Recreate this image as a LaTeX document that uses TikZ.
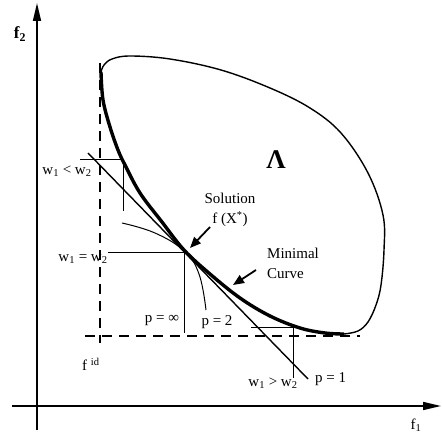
\documentclass[tikz,border=0pt]{standalone}
\usepackage{fontspec}
\setmainfont{Liberation Serif}
\usetikzlibrary{arrows.meta}

\begin{document}
\begin{tikzpicture}[x=1pt, y=-1pt,
  axis/.style={line width=1.6pt, -{Triangle[length=18pt, width=8pt]}},
  bound/.style={line width=1.4pt},
  minimal/.style={line width=3.4pt},
  guide/.style={line width=1pt},
  tangent/.style={line width=1.4pt},
  idline/.style={line width=1.4pt, dash pattern=on 10pt off 7pt},
  lbl/.style={font=\fontsize{15}{20}\selectfont, inner sep=1pt},
  ptr/.style={line width=1.8pt, -{Triangle[length=11pt, width=9pt]}}
]
\useasboundingbox (0,0) rectangle (442,435);

% axes
\coordinate (ybot) at (37,430);
\coordinate (ytop) at (37,3);
\coordinate (xleft) at (12,406);
\coordinate (xright) at (441,406);
\draw[axis] (ybot) -- (ytop);
\draw[axis] (xleft) -- (xright);
\node[lbl, font=\fontsize{17}{20}\selectfont\bfseries] (f2) at (20,34) {f\textsubscript{2}};
\node[lbl] (f1) at (416,425) {f\textsubscript{1}};

% ideal point
\coordinate (idtop) at (100,63);
\coordinate (idbot) at (100,343);
\coordinate (idleft) at (85,336);
\coordinate (idright) at (360,336);
\draw[idline] (idtop) -- (idbot);
\draw[idline] (idleft) -- (idright);
\node[lbl, anchor=base west] (fid) at (81,371) {f \textsuperscript{id}};

% region Lambda
\draw[bound] plot[smooth, tension=0.6] coordinates {(344,334) (358,331) (368,322)
  (376,305) (381,285) (384,250) (383,215) (368,173) (341,133) (310,108)
  (270,88) (221,70) (170,59) (130,56) (112,59) (104,65) (101,72)};
\draw[minimal] plot[smooth, tension=0.6] coordinates {(101,72) (103,100) (110,127)
  (118,150) (125,165) (140,193) (162,222) (184,250) (210,274) (240,298)
  (270,316) (300,328) (325,333) (344,334)};
\node[lbl, font=\fontsize{27}{30}\selectfont\bfseries] (lambda) at (276,160) {Λ};

% p = 1 (weighted sum)
\coordinate (p1a) at (88,153);
\coordinate (p1b) at (308,379);
\draw[tangent] (p1a) -- (p1b);
\node[lbl, anchor=west] (p1) at (314,379) {p = 1};

% p = 2
\draw[guide] plot[smooth, tension=0.7] coordinates {(122,223) (155,233) (184,251)
  (199,274) (206,310)};
\node[lbl] (p2) at (217,322) {p = 2};

% p = infinity, w1 = w2
\coordinate (sol) at (184,253);
\coordinate (solh) at (108,253);
\coordinate (solv) at (184,333);
\draw[guide] (solh) -- (sol) -- (solv);
\node[lbl] (pinf) at (162,320) {p = ∞};
\node[lbl] (weq) at (83,259) {w\textsubscript{1} = w\textsubscript{2}};

% w1 < w2
\coordinate (ltc) at (123,160);
\draw[guide] (80,160) -- (ltc) -- (123,211);
\node[lbl] (wlt) at (67,171) {w\textsubscript{1} < w\textsubscript{2}};

% w1 > w2
\coordinate (gtc) at (293,328);
\draw[guide] (251,328) -- (gtc) -- (293,378);
\node[lbl] (wgt) at (273,383) {w\textsubscript{1} > w\textsubscript{2}};

% callouts
\node[lbl, align=center] (solution) at (230,210) {Solution\\f (X\textsuperscript{*})};
\coordinate (soltail) at (210,227);
\coordinate (soltip) at (190,248);
\draw[ptr] (soltail) -- (soltip);
\node[lbl, align=left, anchor=west] (mincurve) at (266,263) {Minimal\\Curve};
\coordinate (mintail) at (256,270);
\coordinate (mintip) at (233,285);
\draw[ptr] (mintail) -- (mintip);
\end{tikzpicture}
\end{document}
